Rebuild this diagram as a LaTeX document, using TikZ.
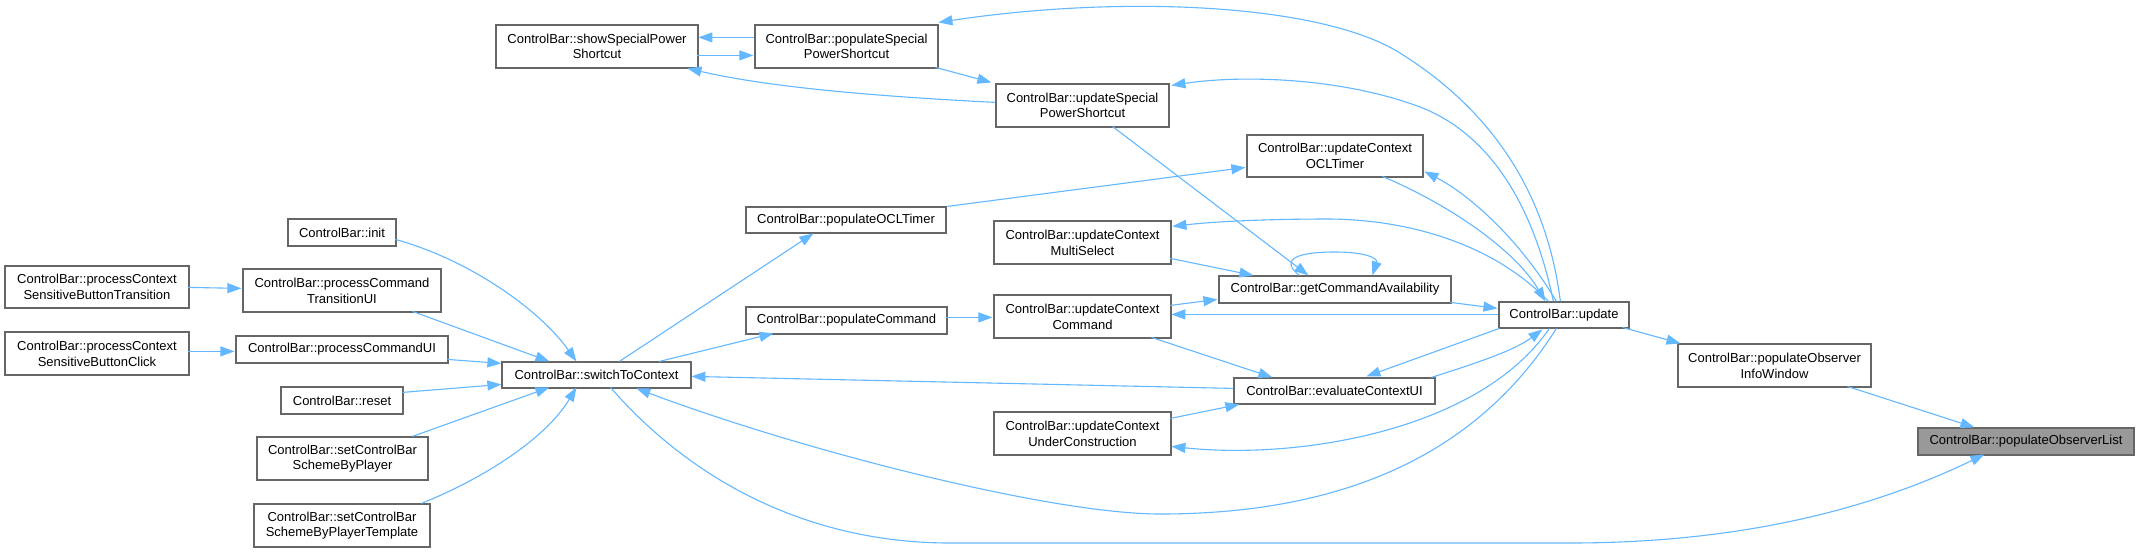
\documentclass[tikz,border=0pt]{standalone}
\usepackage{fontspec}
\setmainfont{Liberation Sans}
\usetikzlibrary{arrows.meta,calc}
\definecolor{edgeblue}{HTML}{63B8FF}
\definecolor{nodegray}{HTML}{666666}
\definecolor{focusgray}{HTML}{999999}
\tikzset{
  fn/.style={draw=nodegray, line width=1.2pt, fill=white, rectangle, inner sep=0pt, align=center,
    font=\fontsize{13}{15.7}\selectfont},
  focus/.style={fn, fill=focusgray},
  e/.style={draw=edgeblue, line width=1.1pt, -{Triangle[length=14pt,width=10pt]}}
}
\begin{document}
\begin{tikzpicture}[x=1pt,y=-1pt]
\useasboundingbox[fill=white] (0,0) rectangle (2139,552);
% nodes
\node[fn, minimum width=202, minimum height=43] (showSPS) at (597,46.5) {ControlBar::showSpecialPower\\Shortcut};
\node[fn, minimum width=183, minimum height=43] (popSPS) at (846.5,46.5) {ControlBar::populateSpecial\\PowerShortcut};
\node[fn, minimum width=173, minimum height=43] (updSPS) at (1082.5,105.5) {ControlBar::updateSpecial\\PowerShortcut};
\node[fn, minimum width=176, minimum height=42] (updOCL) at (1335,156) {ControlBar::updateContext\\OCLTimer};
\node[fn, minimum width=200, minimum height=26] (popOCL) at (846,220) {ControlBar::populateOCLTimer};
\node[fn, minimum width=177, minimum height=43] (updMS) at (1082.5,242.5) {ControlBar::updateContext\\MultiSelect};
\node[fn, minimum width=232, minimum height=27] (getCA) at (1335,289.5) {ControlBar::getCommandAvailability};
\node[fn, minimum width=201, minimum height=27] (popCmd) at (846.5,320.5) {ControlBar::populateCommand};
\node[fn, minimum width=177, minimum height=43] (updCmd) at (1082.5,316.5) {ControlBar::updateContext\\Command};
\node[fn, minimum width=201, minimum height=26] (evalUI) at (1334.5,391) {ControlBar::evaluateContextUI};
\node[fn, minimum width=177, minimum height=43] (updUC) at (1082.5,433.5) {ControlBar::updateContext\\UnderConstruction};
\node[fn, minimum width=130, minimum height=26] (update) at (1564,315) {ControlBar::update};
\node[fn, minimum width=193, minimum height=43] (popOIW) at (1774.5,365.5) {ControlBar::populateObserver\\InfoWindow};
\node[focus, minimum width=216, minimum height=27] (popOL) at (2026,441.5) {ControlBar::populateObserverList};
\node[fn, minimum width=108, minimum height=27] (init) at (342,232.5) {ControlBar::init};
\node[fn, minimum width=184, minimum height=42] (pCSBT) at (97,287) {ControlBar::processContext\\SensitiveButtonTransition};
\node[fn, minimum width=198, minimum height=43] (pCTUI) at (342,290.5) {ControlBar::processCommand\\TransitionUI};
\node[fn, minimum width=184, minimum height=43] (pCSBC) at (97,353.5) {ControlBar::processContext\\SensitiveButtonClick};
\node[fn, minimum width=212, minimum height=27] (pCUI) at (342,349.5) {ControlBar::processCommandUI};
\node[fn, minimum width=189, minimum height=26] (s2c) at (596.5,375) {ControlBar::switchToContext};
\node[fn, minimum width=122, minimum height=27] (reset) at (342,400.5) {ControlBar::reset};
\node[fn, minimum width=171, minimum height=43] (setP) at (342.5,458.5) {ControlBar::setControlBar\\SchemeByPlayer};
\node[fn, minimum width=176, minimum height=43] (setPT) at (342,525.5) {ControlBar::setControlBar\\SchemeByPlayerTemplate};
% edges
\draw[e] ($(popOIW.north west)+(170,43)$) -- ($(popOL.north west)+(57,0)$);
\draw[e] ($(update.north west)+(124,26)$) -- ($(popOIW.north west)+(3,0)$);
\draw[e] ($(s2c.north west)+(109,26)$) .. controls (700,490) and (820,543) .. (950,543) -- (1570,543) .. controls (1750,543) and (1880,505) .. ($(popOL.north west)+(67,27)$);
\draw[e] ($(update.north west)+(58,27)$) .. controls (1480,450) and (1350,514) .. (1160,514) .. controls (1050,514) and (800,450) .. ($(s2c.north west)+(135,27)$);
\draw[e] ($(evalUI.north west)+(0,11)$) -- ($(s2c.north west)+(190,15)$);
\draw[e] ($(s2c.north west)+(158,0)$) -- ($(popCmd.north west)+(28,27)$);
\draw[e] ($(s2c.north west)+(118,0)$) -- ($(popOCL.north west)+(68,27)$);
\draw[e] ($(popOCL.north west)+(202,0)$) -- ($(updOCL.north west)+(-1,33)$);
\draw[e] ($(update.north west)+(58,0)$) .. controls (1520,240) and (1470,195) .. ($(updOCL.north west)+(178,37)$);
\draw[e] ($(updOCL.north west)+(136,42)$) .. controls (1450,205) and (1515,250) .. ($(update.north west)+(47,0)$);
\draw[e] ($(update.north west)+(62,0)$) .. controls (1545,180) and (1480,103) .. (1400,53) .. controls (1320,3) and (1120,-5) .. ($(popSPS.north west)+(184,-2)$);
\draw[e] ($(update.north west)+(55,0)$) .. controls (1530,190) and (1480,130) .. (1420,107) .. controls (1340,77) and (1240,75) .. ($(updSPS.north west)+(176,2)$);
\draw[e] ($(update.north west)+(50,0)$) .. controls (1500,250) and (1420,220) .. (1330,219) .. controls (1260,219) and (1210,222) .. ($(updMS.north west)+(179,6)$);
\draw[e] ($(getCA.north west)+(232,27)$) -- ($(update.north west)+(-1,7)$);
\draw[e] ($(update.north west)+(0,13)$) -- ($(updCmd.north west)+(178,20)$);
\draw[e] ($(updCmd.north west)+(177,11)$) -- ($(getCA.north west)+(-1,24)$);
\draw[e] ($(updMS.north west)+(177,38)$) -- ($(getCA.north west)+(35,0)$);
\draw[e] ($(updSPS.north west)+(117,43)$) -- ($(getCA.north west)+(90,0)$);
\draw[e] ($(getCA.north west)+(81,0)$) .. controls (1282,262) and (1290,252) .. (1335,252) .. controls (1365,252) and (1378,258) .. ($(getCA.north west)+(154,0)$);
\draw[e] ($(updCmd.north west)+(158,43)$) -- ($(evalUI.north west)+(39,0)$);
\draw[e] ($(update.north west)+(1,27)$) -- ($(evalUI.north west)+(133,-1)$);
\draw[e] ($(evalUI.north west)+(198,0)$) .. controls (1480,362) and (1515,350) .. ($(update.north west)+(44,28)$);
\draw[e] ($(updUC.north west)+(177,7)$) -- ($(evalUI.north west)+(6,27)$);
\draw[e] ($(update.north west)+(51,27)$) .. controls (1480,430) and (1300,460) .. ($(updUC.north west)+(178,35)$);
\draw[e] ($(popCmd.north west)+(201,11)$) -- ($(updCmd.north west)+(-1,23)$);
\draw[e] ($(pCTUI.north west)+(170,43)$) -- ($(s2c.north west)+(48,0)$);
\draw[e] ($(init.north west)+(108,21)$) .. controls (470,260) and (540,310) .. ($(s2c.north west)+(75,0)$);
\draw[e] ($(pCUI.north west)+(212,24)$) -- ($(s2c.north west)+(0,2)$);
\draw[e] ($(reset.north west)+(122,6)$) -- ($(s2c.north west)+(0,23)$);
\draw[e] ($(setP.north west)+(156,0)$) -- ($(s2c.north west)+(48,26)$);
\draw[e] ($(setPT.north west)+(168,0)$) .. controls (480,480) and (545,440) .. ($(s2c.north west)+(75,26)$);
\draw[e] ($(pCSBT.north west)+(184,22)$) -- ($(pCTUI.north west)+(-1,20)$);
\draw[e] ($(pCSBC.north west)+(184,20)$) -- ($(pCUI.north west)+(-1,16)$);
\draw[e] ($(popSPS.north west)+(0,13)$) -- ($(showSPS.north west)+(203,13)$);
\draw[e] ($(showSPS.north west)+(202,31)$) -- ($(popSPS.north west)+(-1,31)$);
\draw[e] ($(updSPS.north west)+(0,19)$) .. controls (850,95) and (760,85) .. ($(showSPS.north west)+(192,44)$);
\draw[e] ($(popSPS.north west)+(181,43)$) -- ($(updSPS.north west)+(-4,-1)$);
\end{tikzpicture}
\end{document}
